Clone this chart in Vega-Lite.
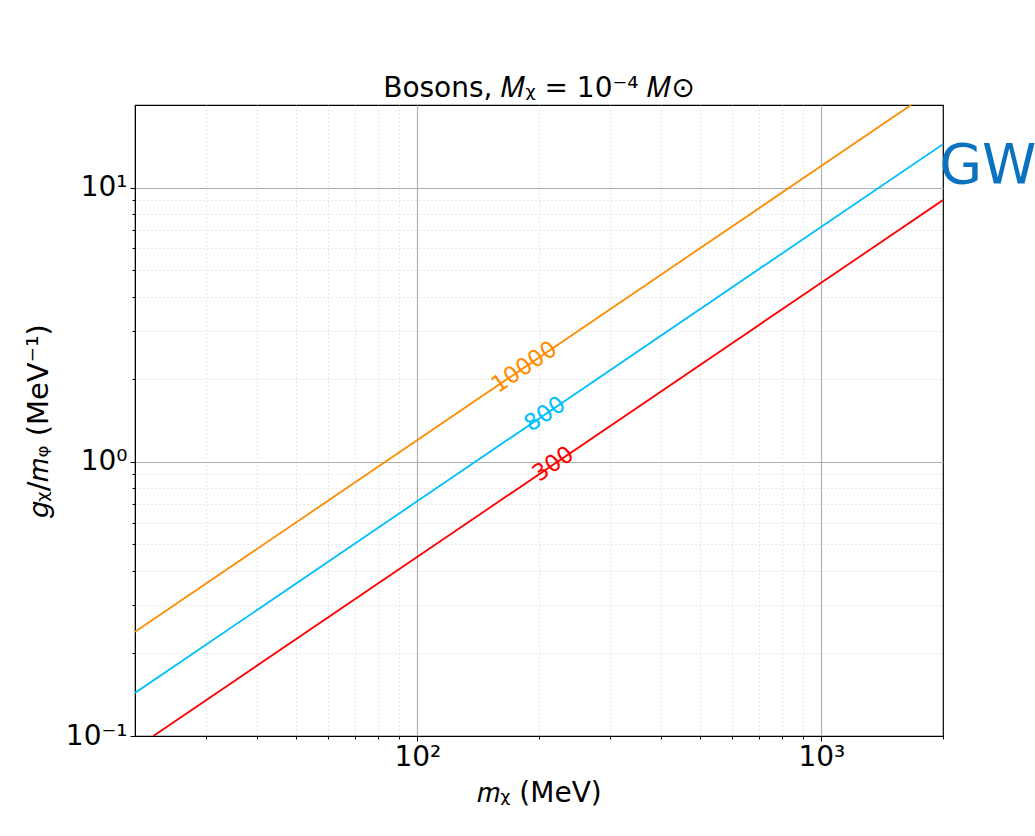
{
  "$schema": "https://vega.github.io/schema/vega-lite/v6.json",
  "width": 808,
  "height": 631,
  "autosize": {"type": "none"},
  "padding": {"left": 135, "top": 105, "right": 92, "bottom": 100},
  "background": "white",
  "config": {
    "font": "DejaVu Sans",
    "view": {"stroke": "black", "strokeWidth": 1.2}
  },
  "title": {
    "text": "Bosons, 𝑀ᵪ = 10⁻⁴ 𝑀⊙",
    "fontSize": 28,
    "fontWeight": "normal",
    "font": "DejaVu Sans",
    "color": "black",
    "offset": 2
  },
  "datasets": {
    "lines": [
      {"level": "10000", "m": 20, "g": 0.24},
      {"level": "10000", "m": 1667, "g": 20},
      {"level": "800", "m": 20, "g": 0.1436},
      {"level": "800", "m": 2000, "g": 14.4},
      {"level": "300", "m": 22.2, "g": 0.1},
      {"level": "300", "m": 2000, "g": 9.0}
    ],
    "labels": [
      {"level": "10000", "m": 184, "g": 2.21},
      {"level": "800", "m": 207, "g": 1.49},
      {"level": "300", "m": 217, "g": 0.98}
    ],
    "gw": [
      {"m": 1960, "g": 10.4, "t": "GW"}
    ]
  },
  "layer": [
    {
      "data": {"name": "lines"},
      "mark": {"type": "line", "strokeWidth": 1.8, "clip": true},
      "encoding": {
        "x": {
          "field": "m",
          "type": "quantitative",
          "scale": {"type": "log", "domain": [20, 2000], "nice": false},
          "axis": {
            "values": [30, 40, 50, 60, 70, 80, 90, 100, 200, 300, 400, 500, 600, 700, 800, 900, 1000, 2000],
            "labelExpr": "datum.value == 100 ? '10²' : datum.value == 1000 ? '10³' : ''",
            "labelFontSize": 28,
            "labelColor": "black",
            "labelPadding": 2,
            "labelOverlap": false,
            "labelFlush": false,
            "title": "𝑚ᵪ (MeV)",
            "titleFontSize": 28,
            "titleFontWeight": "normal",
            "titleColor": "black",
            "titlePadding": 8,
            "grid": true,
            "gridColor": {"condition": {"test": "datum.value == 100 || datum.value == 1000", "value": "#b0b0b0"}, "value": "#d8d8d8"},
            "gridDash": {"condition": {"test": "datum.value == 100 || datum.value == 1000", "value": []}, "value": [1.5, 2.5]},
            "gridWidth": {"condition": {"test": "datum.value == 100 || datum.value == 1000", "value": 1.2}, "value": 0.8},
            "gridOpacity": {"condition": {"test": "datum.value == 2000", "value": 0}, "value": 1},
            "tickSize": {"condition": {"test": "datum.value == 100 || datum.value == 1000", "value": 5}, "value": 3},
            "tickColor": "black",
            "domainColor": "black"
          }
        },
        "y": {
          "field": "g",
          "type": "quantitative",
          "scale": {"type": "log", "domain": [0.1, 20], "nice": false},
          "axis": {
            "values": [0.1, 0.2, 0.3, 0.4, 0.5, 0.6, 0.7, 0.8, 0.9, 1, 2, 3, 4, 5, 6, 7, 8, 9, 10],
            "labelExpr": "datum.value == 10 ? '10¹' : datum.value == 1 ? '10⁰' : abs(datum.value - 0.1) < 1e-9 ? '10⁻¹' : ''",
            "labelFontSize": 28,
            "labelColor": "black",
            "labelPadding": 3,
            "labelOverlap": false,
            "labelFlush": false,
            "title": "𝑔ᵪ/𝑚ᵩ (MeV⁻¹)",
            "titleFontSize": 29,
            "titleFontWeight": "normal",
            "titleColor": "black",
            "titlePadding": 12,
            "grid": true,
            "gridColor": {"condition": {"test": "datum.value == 1 || datum.value == 10", "value": "#b0b0b0"}, "value": "#d8d8d8"},
            "gridDash": {"condition": {"test": "datum.value == 1 || datum.value == 10", "value": []}, "value": [1.5, 2.5]},
            "gridWidth": {"condition": {"test": "datum.value == 1 || datum.value == 10", "value": 1.2}, "value": 0.8},
            "tickSize": {"condition": {"test": "datum.value == 1 || datum.value == 10 || abs(datum.value - 0.1) < 1e-9", "value": 5}, "value": 3},
            "tickColor": "black",
            "domainColor": "black"
          }
        },
        "color": {
          "field": "level",
          "type": "nominal",
          "scale": {"domain": ["10000", "800", "300"], "range": ["#ff8c00", "#00bfff", "#ff0000"]},
          "legend": null
        }
      }
    },
    {
      "data": {"name": "labels"},
      "mark": {"type": "text", "angle": 326, "fontSize": 23, "align": "center", "baseline": "middle"},
      "encoding": {
        "x": {"field": "m", "type": "quantitative"},
        "y": {"field": "g", "type": "quantitative"},
        "text": {"field": "level"},
        "color": {"field": "level", "type": "nominal", "legend": null}
      }
    },
    {
      "data": {"name": "gw"},
      "mark": {"type": "text", "fontSize": 55, "align": "left", "baseline": "alphabetic", "color": "#0a72bf", "clip": false},
      "encoding": {
        "x": {"field": "m", "type": "quantitative"},
        "y": {"field": "g", "type": "quantitative"},
        "text": {"field": "t"}
      }
    }
  ]
}
